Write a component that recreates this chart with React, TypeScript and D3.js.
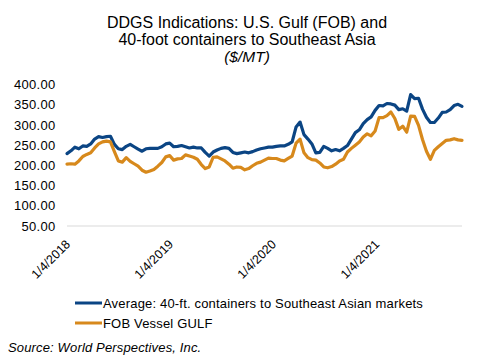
import React from 'react';
import * as d3 from 'd3';

// Biweekly observations starting 1/4/2018
const startDate = '2018-01-04';
const stepDays = 14;

const containerValues = [
  229, 236, 245, 241, 248, 247, 253, 265, 271, 269,
  271, 272, 252, 241, 239, 247, 252, 246, 240, 235,
  241, 242, 242, 242, 246, 253, 255, 246, 247, 249,
  246, 243, 245, 243, 243, 232, 223, 233, 238, 242,
  244, 242, 232, 229, 231, 233, 231, 234, 238, 241,
  243, 245, 245, 247, 248, 248, 252, 258, 295, 307,
  276, 265, 253, 231, 232, 247, 242, 236, 239, 236,
  242, 249, 265, 281, 288, 303, 313, 320, 336, 348,
  347, 353, 352, 349, 338, 340, 334, 375, 365, 366,
  339, 319, 306, 306, 317, 331, 332, 338, 348, 351,
  346,
];

const fobValues = [
  203, 204, 203, 211, 222, 227, 231, 243, 253, 258,
  260, 258, 234, 211, 208, 219, 210, 204, 198, 188,
  183, 186, 190, 198, 207, 221, 224, 213, 216, 217,
  226, 223, 220, 215, 202, 192, 196, 220, 221, 216,
  211, 203, 193, 196, 195, 189, 192, 199, 205, 208,
  213, 218, 217, 217, 213, 211, 217, 223, 255, 265,
  231, 219, 214, 213, 206, 196, 194, 197, 203, 211,
  215, 233, 242, 250, 258, 270, 278, 273, 285, 318,
  318, 323, 332, 316, 289, 297, 282, 322, 321, 299,
  264, 235, 215, 237, 246, 254, 262, 263, 266, 263,
  262,
];

const yTicks = [50, 100, 150, 200, 250, 300, 350, 400];
const xTickLabels = ['1/4/2018', '1/4/2019', '1/4/2020', '1/4/2021'];
const seriesNames = [
  'Average: 40-ft. containers to Southeast Asian markets',
  'FOB Vessel GULF',
];
const titleLines = [
  'DDGS Indications: U.S. Gulf (FOB) and',
  '40-foot containers to Southeast Asia',
  '($/MT)',
];
const sourceText = 'Source: World Perspectives, Inc.';

const COLORS = ['#0b4584', '#d7891c'];
const FONT = "Arial, 'Liberation Sans', sans-serif";

export default function App() {
  const W = 479;
  const H = 358;
  const start = d3.timeParse('%Y-%m-%d')(startDate) as Date;
  const dates = containerValues.map((_, i) => d3.timeDay.offset(start, i * stepDays));
  const parseTick = d3.timeParse('%m/%d/%Y');

  const x = d3.scaleTime().domain([dates[0], dates[dates.length - 1]]).range([67, 462]);
  const y = d3.scaleLinear().domain([50, 400]).range([226, 84.5]);

  const line = d3
    .line<number>()
    .x((_, i) => x(dates[i]))
    .y((d) => y(d))
    .curve(d3.curveLinear);

  const series = [containerValues, fobValues];

  return (
    <svg
      width={W}
      height={H}
      style={{ position: 'absolute', left: 0, top: 0, background: '#fff' }}
      fontFamily={FONT}
    >
      <rect width={W} height={H} fill="#fff" />
      {/* Title */}
      <g textAnchor="middle" fill="#000">
        <text x={247} y={28} fontSize={16}>{titleLines[0]}</text>
        <text x={247} y={45} fontSize={16}>{titleLines[1]}</text>
        <text x={247} y={62} fontSize={15.5} fontStyle="italic">{titleLines[2]}</text>
      </g>

      {/* Y axis labels */}
      <g fontSize={13} fill="#000" textAnchor="end" letterSpacing={0.3}>
        {yTicks.map((t) => (
          <text key={t} x={55.5} y={y(t)} dy="0.36em">
            {d3.format('.2f')(t)}
          </text>
        ))}
      </g>

      {/* Baseline */}
      <line x1={x.range()[0]} x2={x.range()[1]} y1={y(50)} y2={y(50)} stroke="#d9d9d9" strokeWidth={1} />

      {/* X labels */}
      <g fontSize={12.5} fill="#000" textAnchor="end">
        {xTickLabels.map((lab) => {
          const px = x(parseTick(lab) as Date) + 4;
          const py = 245;
          return (
            <text key={lab} x={px} y={py} transform={`rotate(-45 ${px} ${py})`}>
              {lab}
            </text>
          );
        })}
      </g>

      {/* Series lines */}
      {series.map((s, k) => (
        <path
          key={k}
          d={line(s) || ''}
          fill="none"
          stroke={COLORS[k]}
          strokeWidth={3.2}
          strokeLinejoin="round"
          strokeLinecap="round"
        />
      ))}

      {/* Legend */}
      <g fontSize={13} fill="#000" letterSpacing={0.18}>
        {seriesNames.map((name, k) => {
          const ly = 303 + k * 20;
          return (
            <g key={name}>
              <line x1={75} x2={102} y1={ly} y2={ly} stroke={COLORS[k]} strokeWidth={3} />
              <text x={103} y={ly} dy="0.36em">{name}</text>
            </g>
          );
        })}
      </g>

      {/* Source */}
      <text x={8} y={352} fontSize={13} fontStyle="italic" fill="#000" letterSpacing={0.15}>
        {sourceText}
      </text>
    </svg>
  );
}
